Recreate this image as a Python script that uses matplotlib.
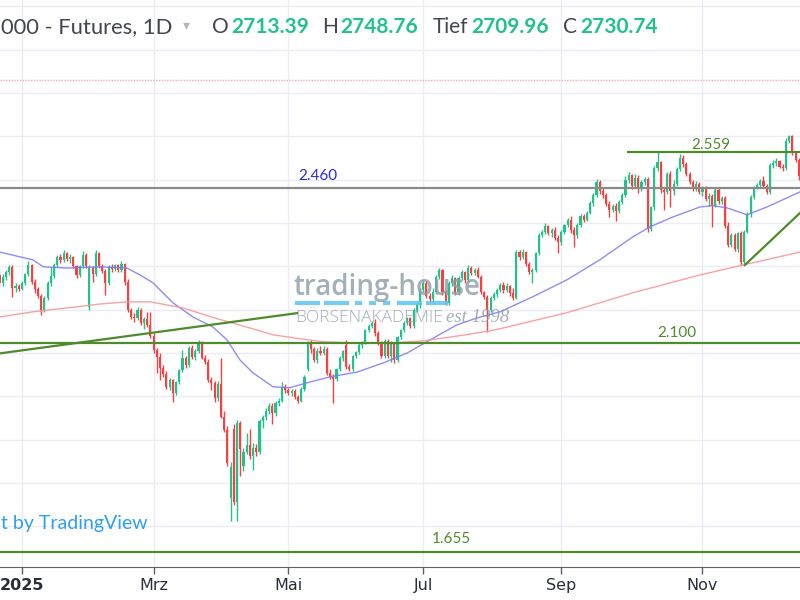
import matplotlib
matplotlib.use("Agg")
import matplotlib.pyplot as plt
from matplotlib.lines import Line2D

plt.rcParams['font.family'] = ['Lato', 'DejaVu Sans']

# daily bars, bar 0 = first visible session (mid Dec 2024)
opens = [2280, 2262, 2275, 2287, 2298, 2250, 2255, 2248, 2262, 2282,
         2303, 2265, 2248, 2232, 2200, 2228, 2262, 2278, 2303, 2322,
         2315, 2330, 2316, 2322, 2300, 2280, 2300, 2326, 2206, 2296,
         2282, 2331, 2300, 2290, 2262, 2298, 2294, 2302, 2292, 2305,
         2265, 2200, 2183, 2180, 2200, 2170, 2178, 2165, 2140, 2107,
         2090, 2065, 2052, 2022, 2038, 2008, 2033, 2061, 2089, 2072,
         2112, 2090, 2105, 2126, 2089, 2080, 2038, 2031, 1995, 2028,
         1953, 1923, 1765, 1925, 1756, 1938, 1840, 1872, 1888, 1862,
         1880, 1872, 1944, 1953, 1966, 1978, 1962, 1985, 1990, 2022,
         2015, 2008, 2012, 1998, 1990, 2018, 2062, 2123, 2110, 2084,
         2105, 2100, 2110, 2054, 2045, 2040, 2062, 2088, 2118, 2068,
         2062, 2092, 2102, 2118, 2124, 2152, 2162, 2170, 2146, 2123,
         2092, 2128, 2092, 2120, 2084, 2137, 2152, 2170, 2180, 2162,
         2200, 2210, 2246, 2262, 2232, 2224, 2240, 2276, 2292, 2240,
         2215, 2262, 2272, 2240, 2274, 2286, 2268, 2297, 2285, 2292,
         2276, 2240, 2230, 2200, 2228, 2236, 2246, 2258, 2245, 2255,
         2238, 2228, 2333, 2322, 2334, 2305, 2288, 2292, 2330, 2373,
         2380, 2392, 2376, 2384, 2365, 2356, 2380, 2395, 2408, 2384,
         2372, 2396, 2416, 2408, 2424, 2446, 2465, 2495, 2475, 2464,
         2445, 2430, 2440, 2428, 2448, 2465, 2500, 2510, 2485, 2505,
         2478, 2495, 2502, 2386, 2436, 2528, 2540, 2476, 2472, 2514,
         2475, 2490, 2525, 2550, 2536, 2512, 2495, 2480, 2490, 2472,
         2482, 2455, 2462, 2440, 2476, 2450, 2458, 2392, 2350, 2372,
         2340, 2377, 2310, 2380, 2420, 2460, 2483, 2488, 2498, 2485,
         2472, 2534, 2538, 2542, 2530, 2526, 2590, 2600, 2562, 2545]
highs = [2290, 2282, 2292, 2303, 2302, 2262, 2260, 2266, 2285, 2312,
         2306, 2270, 2252, 2236, 2232, 2266, 2298, 2308, 2326, 2328,
         2338, 2334, 2328, 2325, 2304, 2304, 2335, 2330, 2302, 2300,
         2338, 2334, 2305, 2294, 2302, 2305, 2306, 2306, 2312, 2308,
         2270, 2205, 2192, 2206, 2204, 2184, 2195, 2195, 2146, 2112,
         2100, 2072, 2058, 2042, 2040, 2036, 2064, 2107, 2094, 2115,
         2118, 2110, 2130, 2128, 2096, 2086, 2045, 2035, 2035, 2089,
         1965, 1932, 1848, 1935, 1945, 1942, 1880, 1916, 1925, 1892,
         1890, 1948, 1958, 1972, 1984, 1985, 1990, 1996, 2033, 2028,
         2020, 2018, 2016, 2002, 2022, 2050, 2128, 2130, 2114, 2112,
         2115, 2116, 2113, 2062, 2052, 2066, 2092, 2108, 2130, 2075,
         2096, 2105, 2122, 2128, 2156, 2168, 2175, 2178, 2150, 2128,
         2132, 2132, 2128, 2124, 2140, 2156, 2174, 2184, 2184, 2204,
         2215, 2250, 2268, 2266, 2238, 2250, 2280, 2297, 2295, 2245,
         2266, 2280, 2276, 2278, 2292, 2290, 2303, 2300, 2296, 2298,
         2280, 2244, 2234, 2232, 2240, 2250, 2262, 2264, 2262, 2258,
         2250, 2338, 2338, 2340, 2336, 2310, 2296, 2334, 2378, 2385,
         2400, 2396, 2388, 2390, 2372, 2384, 2398, 2412, 2416, 2390,
         2400, 2420, 2420, 2428, 2450, 2470, 2502, 2500, 2480, 2470,
         2450, 2444, 2446, 2452, 2470, 2508, 2518, 2514, 2512, 2510,
         2500, 2506, 2506, 2440, 2532, 2564, 2544, 2482, 2518, 2520,
         2500, 2530, 2560, 2556, 2540, 2518, 2500, 2496, 2494, 2486,
         2486, 2470, 2468, 2480, 2480, 2462, 2462, 2402, 2378, 2376,
         2380, 2382, 2384, 2425, 2464, 2486, 2492, 2502, 2508, 2490,
         2538, 2546, 2550, 2546, 2536, 2596, 2604, 2603, 2566, 2550]
lows = [2255, 2255, 2268, 2280, 2230, 2240, 2242, 2245, 2258, 2278,
        2260, 2238, 2226, 2188, 2195, 2222, 2255, 2272, 2298, 2308,
        2310, 2312, 2308, 2296, 2274, 2276, 2296, 2296, 2200, 2265,
        2278, 2296, 2285, 2235, 2258, 2288, 2290, 2288, 2288, 2258,
        2195, 2178, 2172, 2176, 2165, 2155, 2160, 2135, 2100, 2054,
        2038, 2045, 2018, 2015, 1987, 2002, 2028, 2056, 2065, 2068,
        2085, 2084, 2100, 2085, 2075, 2032, 2015, 1988, 1990, 1950,
        1918, 1840, 1712, 1750, 1712, 1815, 1828, 1868, 1855, 1830,
        1862, 1868, 1928, 1945, 1960, 1935, 1955, 1978, 1986, 2008,
        2002, 2000, 1994, 1985, 1986, 2012, 2058, 2100, 2080, 2078,
        2096, 2095, 2050, 2040, 1984, 2035, 2058, 2082, 2062, 2058,
        2058, 2088, 2098, 2112, 2120, 2148, 2158, 2140, 2118, 2088,
        2088, 2088, 2080, 2078, 2080, 2132, 2148, 2165, 2158, 2158,
        2195, 2205, 2240, 2228, 2218, 2215, 2236, 2270, 2235, 2210,
        2210, 2255, 2235, 2235, 2268, 2262, 2264, 2280, 2280, 2272,
        2236, 2225, 2149, 2195, 2222, 2230, 2240, 2238, 2240, 2232,
        2222, 2224, 2315, 2316, 2300, 2282, 2262, 2288, 2326, 2368,
        2374, 2372, 2368, 2360, 2331, 2350, 2375, 2390, 2378, 2345,
        2366, 2390, 2402, 2404, 2420, 2440, 2460, 2468, 2458, 2440,
        2414, 2425, 2405, 2424, 2444, 2460, 2492, 2478, 2480, 2470,
        2474, 2488, 2380, 2382, 2430, 2520, 2470, 2430, 2468, 2437,
        2465, 2485, 2520, 2530, 2508, 2490, 2475, 2474, 2466, 2462,
        2450, 2440, 2391, 2436, 2445, 2445, 2388, 2345, 2345, 2336,
        2334, 2303, 2305, 2376, 2415, 2455, 2478, 2484, 2480, 2468,
        2468, 2528, 2532, 2526, 2520, 2522, 2584, 2556, 2540, 2500]
closes = [2262, 2275, 2287, 2298, 2250, 2255, 2248, 2262, 2282, 2303,
          2265, 2248, 2232, 2200, 2228, 2262, 2278, 2303, 2322, 2315,
          2330, 2316, 2322, 2300, 2280, 2300, 2326, 2300, 2296, 2282,
          2331, 2300, 2290, 2262, 2298, 2294, 2302, 2292, 2305, 2265,
          2200, 2183, 2180, 2200, 2170, 2178, 2165, 2140, 2107, 2090,
          2065, 2052, 2022, 2038, 2008, 2033, 2061, 2089, 2072, 2112,
          2090, 2105, 2126, 2089, 2080, 2038, 2031, 1995, 2028, 1953,
          1923, 1846, 1838, 1756, 1938, 1878, 1872, 1888, 1862, 1880,
          1872, 1944, 1953, 1966, 1978, 1962, 1985, 1990, 2022, 2015,
          2008, 2012, 1998, 1990, 2018, 2045, 2123, 2110, 2084, 2105,
          2100, 2110, 2054, 2045, 2040, 2062, 2088, 2105, 2068, 2062,
          2092, 2102, 2118, 2124, 2152, 2162, 2170, 2146, 2123, 2092,
          2128, 2092, 2120, 2084, 2137, 2152, 2170, 2180, 2162, 2200,
          2210, 2246, 2262, 2232, 2224, 2240, 2276, 2292, 2240, 2215,
          2262, 2272, 2240, 2274, 2286, 2268, 2297, 2285, 2292, 2276,
          2240, 2230, 2200, 2228, 2236, 2246, 2258, 2245, 2255, 2238,
          2228, 2333, 2322, 2334, 2305, 2288, 2292, 2330, 2373, 2380,
          2392, 2376, 2384, 2365, 2356, 2380, 2395, 2408, 2384, 2372,
          2396, 2416, 2408, 2424, 2446, 2465, 2495, 2475, 2464, 2445,
          2430, 2440, 2428, 2448, 2465, 2500, 2510, 2485, 2505, 2478,
          2495, 2502, 2386, 2436, 2528, 2540, 2476, 2472, 2514, 2475,
          2490, 2525, 2550, 2536, 2512, 2495, 2480, 2490, 2472, 2482,
          2455, 2462, 2440, 2476, 2450, 2458, 2392, 2350, 2372, 2340,
          2377, 2310, 2380, 2420, 2460, 2483, 2488, 2498, 2485, 2472,
          2534, 2538, 2542, 2530, 2526, 2590, 2600, 2562, 2545, 2508]

month_pos = [7, 48, 90, 132, 175, 219]
month_labels = ["2025", "Mrz", "Mai", "Jul", "Sep", "Nov"]

# moving averages (bar index, price)
ma_fast_x = [0, 10.4, 13.6, 21, 31.3, 39.7, 43.8, 47.8, 54, 60.3, 66.5, 70.9,
             74.9, 79, 85.2, 90.5, 96.7, 103, 111.4, 119.5, 127, 134.1, 142.5,
             148.8, 155.9, 166.2, 176.8, 187, 197.3, 202.6, 209.8, 218.2,
             222.3, 226.6, 232.9, 239.1, 245.3, 249.4]
ma_fast_y = [2333, 2315, 2299, 2296, 2299, 2296, 2280, 2262, 2216, 2183, 2160,
             2130, 2084, 2054, 2022, 2020, 2033, 2045, 2056, 2077, 2100, 2130,
             2165, 2181, 2195, 2230, 2269, 2315, 2368, 2391, 2414, 2437, 2440,
             2435, 2419, 2437, 2458, 2472]
ma_slow_x = [0, 10.4, 21, 31.3, 39.7, 46.9, 57.2, 67.8, 77, 85.2, 93.6, 100.8,
             111.4, 121.6, 132, 142.5, 152.8, 155.9, 176.8, 197.3, 218.2,
             231.6, 249.4]
ma_slow_y = [2183, 2195, 2204, 2213, 2218, 2218, 2204, 2179, 2160, 2142, 2133,
             2126, 2123, 2123, 2128, 2139, 2151, 2156, 2193, 2239, 2280, 2303,
             2333]

# drawn levels and trend lines
level_grey = 2480
level_mid = 2123
level_low = 1641
level_top = 2563
last_close = 2730.74
trend_long = ([-1, 92.7], [2098, 2192])
trend_short = ([232.2, 252.5], [2303, 2445])

UP = '#22c28c'
DOWN = '#f7403f'
LINE_GREEN = '#4f8a2b'

fig = plt.figure(figsize=(8, 6), dpi=100)
ax = fig.add_axes([0, 33 / 600, 1, 567 / 600])
ax.set_xlim(0.156, 249.38)
ax.set_ylim(1606.1, 2914.7)

# grid
ax.set_yticks(range(1700, 3000, 100))
ax.set_xticks(month_pos)
ax.set_xticklabels(month_labels, family=['Liberation Sans Narrow', 'DejaVu Sans'],
                   fontsize=11.5, color='#2a2e39')
ax.get_xticklabels()[0].set_fontweight('bold')
ax.grid(True, color='#edebf6', lw=1, zorder=0)
ax.tick_params(axis='y', left=False, labelleft=False)
ax.tick_params(axis='x', direction='out', length=5, width=1, color='#5d606b', pad=3)
for side in ['top', 'left', 'right']:
    ax.spines[side].set_visible(False)
ax.spines['bottom'].set_color('#5d606b')
ax.set_axisbelow(True)

# candles
idx = list(range(len(closes)))
cols = [UP if c >= o else DOWN for o, c in zip(opens, closes)]
bottoms = [min(o, c) for o, c in zip(opens, closes)]
heights = [max(abs(c - o), 1.5) for o, c in zip(opens, closes)]
ax.vlines(idx, lows, highs, colors=cols, lw=1, zorder=2)
ax.bar(idx, heights, bottom=bottoms, width=0.66, color=cols, lw=0, zorder=3)

# moving averages
ax.plot(ma_fast_x, ma_fast_y, color='#7a7af2', lw=1, alpha=0.85, zorder=4)
ax.plot(ma_slow_x, ma_slow_y, color='#f49a98', lw=1, alpha=0.9, zorder=4)

# price line of last close
ax.axhline(last_close, color='#f4a7c0', lw=1, ls=(0, (1, 1)), zorder=1)

# watermark
def px(x, y):
    return x / 800, 1 - y / 600

fig.text(*px(294, 288), "trading-house", family='Open Sans', fontweight='semibold',
         fontsize=20, color='#8d9ca6', alpha=0.8, va='center', ha='left', zorder=5)
for x0, x1 in [(297, 318), (326, 347), (357, 360), (371, 374), (385, 388),
               (399, 420), (428, 446)]:
    fig.add_artist(Line2D([x0 / 800, x1 / 800], [1 - 303 / 600] * 2,
                          color='#5cc4f2', lw=3, alpha=0.85, zorder=5))
fig.text(*px(295, 318), "BÖRSENAKADEMIE", family='Open Sans', fontweight='light',
         fontsize=12.5, color='#8d9ca6', alpha=0.8, va='center', ha='left', zorder=5)
fig.text(*px(446, 318), "est 1998", family='Liberation Serif', style='italic',
         fontsize=13.5, color='#8d9ca6', alpha=0.8, va='center', ha='left', zorder=5)

# levels and trend lines
ax.axhline(level_grey, color='#8a8a8a', lw=1.6, zorder=6)
ax.axhline(level_mid, color=LINE_GREEN, lw=1.6, zorder=6)
ax.axhline(level_low, color=LINE_GREEN, lw=1.6, zorder=6)
ax.plot([195.8, 252], [level_top, level_top], color=LINE_GREEN, lw=1.6, zorder=6)
ax.plot(*trend_long, color=LINE_GREEN, lw=1.6, zorder=6)
ax.plot(*trend_short, color=LINE_GREEN, lw=1.6, zorder=6)

ax.text(99.2, 2509, "2.460", color='#2a2ad6', fontsize=11, ha='center', va='center', zorder=7)
ax.text(221.6, 2580, "2.559", color=LINE_GREEN, fontsize=11, ha='center', va='center', zorder=7)
ax.text(211, 2146, "2.100", color=LINE_GREEN, fontsize=11, ha='center', va='center', zorder=7)
ax.text(140.7, 1671, "1.655", color=LINE_GREEN, fontsize=11, ha='center', va='center', zorder=7)

# header (left part of the symbol name is outside the screenshot)
DARK = '#434651'
NUM = '#22c28c'
fig.text(*px(1, 27), "000 - Futures, 1D", ha='left', va='center',
         fontsize=15.8, color=DARK)
fig.text(*px(183, 25), "▾", family='DejaVu Sans', ha='left', va='center',
         fontsize=10, color='#b2b5be')
for x, lab, val in [(212, "O", "2713.39"), (322, "H", "2748.76"),
                    (433, "Tief", "2709.96"), (563, "C", "2730.74")]:
    fig.text(*px(x, 27), lab, ha='left', va='center', fontsize=15, color=DARK)
    fig.text(*px(x + {"O": 19, "H": 18, "Tief": 38, "C": 17}[lab], 27), val,
             ha='left', va='center', fontsize=15, color=NUM, fontweight='bold')

fig.text(*px(1, 524), "t by TradingView", ha='left', va='center',
         fontsize=14, color='#2f9ff0')

fig.savefig("out.png", dpi=100)
